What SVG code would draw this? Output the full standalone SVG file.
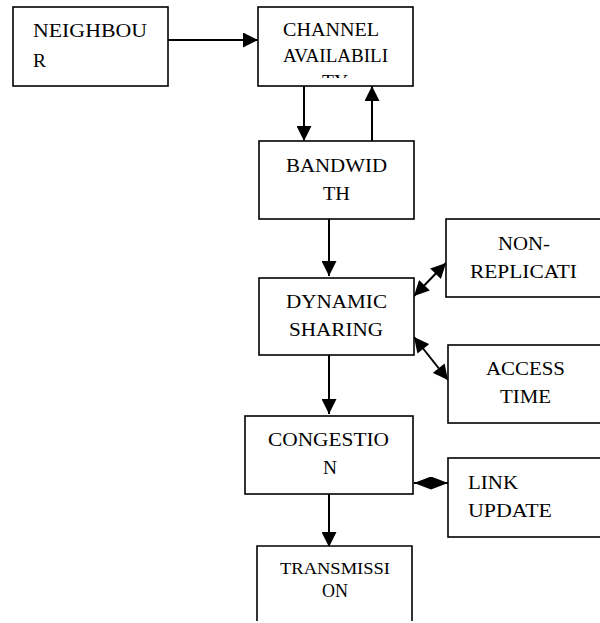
<svg xmlns="http://www.w3.org/2000/svg" width="600" height="623" viewBox="0 0 600 623">
<style>
.box{fill:#fff;stroke:#000;stroke-width:1.6}
.t{font-family:"Liberation Serif","Times New Roman",serif;font-size:18.5px;fill:#000}
.c{stroke:#000;stroke-width:2;fill:none}
.a{marker-end:url(#ah)}
.d{marker-start:url(#ah);marker-end:url(#ah)}
</style>
<defs>
<marker id="ah" markerUnits="userSpaceOnUse" markerWidth="16" markerHeight="15" refX="15" refY="7.5" orient="auto-start-reverse" viewBox="0 0 15 15">
<path d="M0,0 L15,7.5 L0,15 z" fill="#000"/>
</marker>
<marker id="ah2" markerUnits="userSpaceOnUse" markerWidth="17" markerHeight="13" refX="17" refY="6.5" orient="auto-start-reverse" viewBox="0 0 17 13">
<path d="M0,0 L17,6.5 L0,13 z" fill="#000"/>
</marker>
<clipPath id="chclip"><rect x="258" y="7" width="155" height="71"/></clipPath>
</defs>
<rect width="600" height="623" fill="#fff"/>
<g id="connectors">
<line class="c a" x1="168" y1="40" x2="258" y2="40"/>
<line class="c a" x1="304" y1="86" x2="304" y2="141"/>
<line class="c a" x1="372" y1="141" x2="372" y2="86"/>
<line class="c a" x1="329" y1="219" x2="329" y2="276"/>
<line class="c d" x1="414" y1="296" x2="446" y2="263"/>
<line class="c d" x1="414" y1="337" x2="448" y2="380"/>
<line class="c a" x1="329" y1="355" x2="329" y2="414"/>
<line class="c" x1="414" y1="483" x2="448" y2="483" marker-start="url(#ah2)" marker-end="url(#ah2)"/>
<line class="c a" x1="329" y1="494" x2="329" y2="547"/>
</g>
<g id="neighbour">
<rect class="box" x="13" y="7" width="155" height="79"/>
<text class="t" x="33" y="37" textLength="114" lengthAdjust="spacingAndGlyphs">NEIGHBOU</text>
<text class="t" x="33" y="67" textLength="13" lengthAdjust="spacingAndGlyphs">R</text>
</g>
<g id="channel">
<rect class="box" x="258" y="7" width="155" height="79"/>
<text class="t" x="283" y="36" textLength="96" lengthAdjust="spacingAndGlyphs">CHANNEL</text>
<text class="t" x="283" y="62" textLength="105" lengthAdjust="spacingAndGlyphs">AVAILABILI</text>
<text class="t" x="322" y="88" textLength="26" lengthAdjust="spacingAndGlyphs" clip-path="url(#chclip)">TY</text>
</g>
<g id="bandwidth">
<rect class="box" x="259" y="141" width="155" height="78"/>
<text class="t" x="286" y="172" textLength="101" lengthAdjust="spacingAndGlyphs">BANDWID</text>
<text class="t" x="323" y="200" textLength="27" lengthAdjust="spacingAndGlyphs">TH</text>
</g>
<g id="non-replication">
<rect class="box" x="446" y="219" width="170" height="78"/>
<text class="t" x="498" y="250" textLength="52" lengthAdjust="spacingAndGlyphs">NON-</text>
<text class="t" x="470" y="278" textLength="107" lengthAdjust="spacingAndGlyphs">REPLICATI</text>
</g>
<g id="dynamic-sharing">
<rect class="box" x="259" y="278" width="155" height="77"/>
<text class="t" x="286" y="308" textLength="101" lengthAdjust="spacingAndGlyphs">DYNAMIC</text>
<text class="t" x="289" y="336" textLength="94" lengthAdjust="spacingAndGlyphs">SHARING</text>
</g>
<g id="access-time">
<rect class="box" x="448" y="345" width="170" height="78"/>
<text class="t" x="486" y="375" textLength="79" lengthAdjust="spacingAndGlyphs">ACCESS</text>
<text class="t" x="500" y="403" textLength="51" lengthAdjust="spacingAndGlyphs">TIME</text>
</g>
<g id="congestion">
<rect class="box" x="245" y="416" width="168" height="78"/>
<text class="t" x="268" y="446" textLength="121" lengthAdjust="spacingAndGlyphs">CONGESTIO</text>
<text class="t" x="323" y="474" textLength="14" lengthAdjust="spacingAndGlyphs">N</text>
</g>
<g id="link-update">
<rect class="box" x="448" y="458" width="170" height="79"/>
<text class="t" x="468" y="489" textLength="50" lengthAdjust="spacingAndGlyphs">LINK</text>
<text class="t" x="468" y="517" textLength="84" lengthAdjust="spacingAndGlyphs">UPDATE</text>
</g>
<g id="transmission">
<path class="box" d="M257,621 V546 H412 V621" fill="#fff"/>
<text class="t" x="280" y="574" style="font-size:17px" textLength="110" lengthAdjust="spacingAndGlyphs">TRANSMISSI</text>
<text class="t" x="322" y="597" textLength="26" lengthAdjust="spacingAndGlyphs">ON</text>
</g>
</svg>
